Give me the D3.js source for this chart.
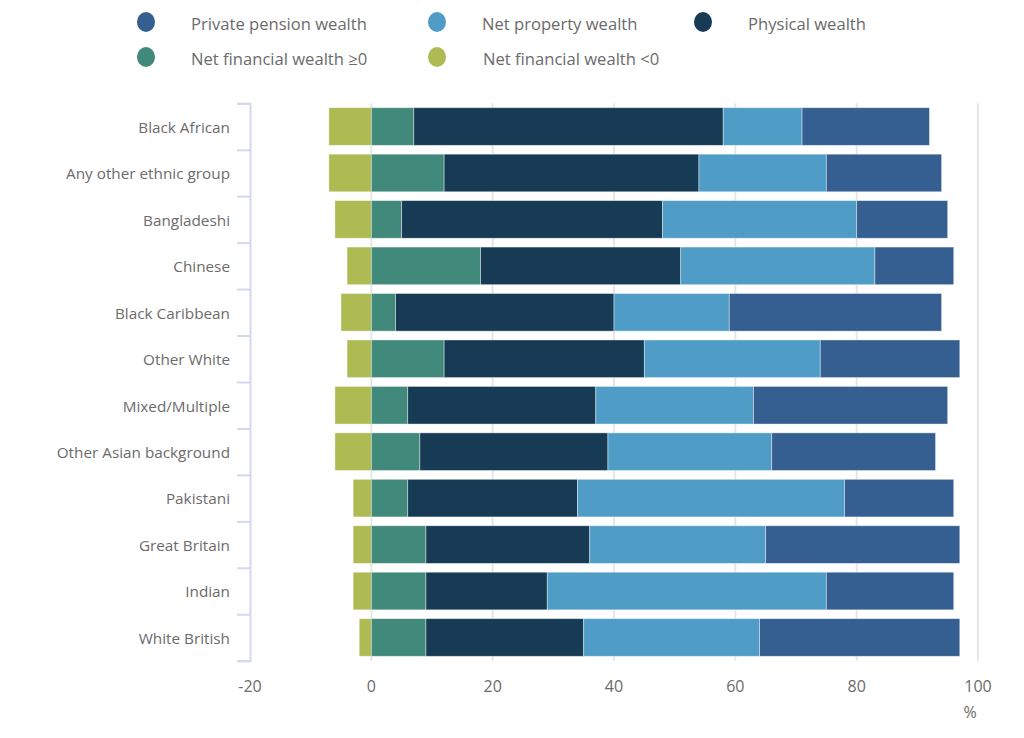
<!DOCTYPE html>
<meta charset="utf-8" />
<script src="https://d3js.org/d3.v7.min.js"></script>
<style>
  body { margin: 0; background: #fff; }
  text { font-family: "Open Sans", sans-serif; fill: #6b6b6b; }
  .grid line { stroke: #e6e6e6; stroke-width: 2; }
  .yaxis path, .yaxis line { stroke: #d3d9ee; stroke-width: 2; }
</style>
<div id="chart"></div>
<script>
  // groups, top to bottom
  const groups = [
    "Black African", "Any other ethnic group", "Bangladeshi", "Chinese",
    "Black Caribbean", "Other White", "Mixed/Multiple", "Other Asian background",
    "Pakistani", "Great Britain", "Indian", "White British"
  ];

  // shares of total wealth, %
  const finNeg   = [-7, -7, -6, -4, -5, -4, -6, -6, -3, -3, -3, -2];
  const finPos   = [7, 12, 5, 18, 4, 12, 6, 8, 6, 9, 9, 9];
  const physical = [51, 42, 43, 33, 36, 33, 31, 31, 28, 27, 20, 26];
  const property = [13, 21, 32, 32, 19, 29, 26, 27, 44, 29, 46, 29];
  const pension  = [21, 19, 15, 13, 35, 23, 32, 27, 18, 32, 21, 33];

  const xTicks = [-20, 0, 20, 40, 60, 80, 100];

  const keys = ["finNeg", "finPos", "physical", "property", "pension"];
  const colors = {
    pension: "#345f90",
    property: "#4f9dc7",
    physical: "#173a55",
    finPos: "#41897a",
    finNeg: "#adbb52"
  };
  const legendItems = [
    { key: "pension", label: "Private pension wealth", x: 146, y: 22 },
    { key: "property", label: "Net property wealth", x: 437, y: 22 },
    { key: "physical", label: "Physical wealth", x: 703, y: 22 },
    { key: "finPos", label: "Net financial wealth \u22650", x: 146, y: 57 },
    { key: "finNeg", label: "Net financial wealth <0", x: 437, y: 57 }
  ];

  const rows = groups.map((g, i) => ({
    group: g,
    finNeg: finNeg[i],
    finPos: finPos[i],
    physical: physical[i],
    property: property[i],
    pension: pension[i]
  }));

  const width = 1024, height = 738;
  const plotTop = 103.3, plotBottom = 660.7, plotLeft = 250, plotRight = 978;

  const svg = d3.select("#chart").append("svg")
    .attr("width", width)
    .attr("height", height);

  const x = d3.scaleLinear().domain([-20, 100]).range([plotLeft, plotRight]);
  const y = d3.scaleBand().domain(groups).range([plotTop, plotBottom])
    .paddingInner(0.19).paddingOuter(0.095);

  // vertical gridlines
  svg.append("g").attr("class", "grid")
    .selectAll("line")
    .data(xTicks.filter(d => d !== -20))
    .join("line")
    .attr("x1", d => x(d)).attr("x2", d => x(d))
    .attr("y1", plotTop).attr("y2", plotBottom);

  // stacked bars
  const series = d3.stack().keys(keys).offset(d3.stackOffsetDiverging)(rows);

  svg.append("g")
    .selectAll("g")
    .data(series)
    .join("g")
    .attr("fill", d => colors[d.key])
    .selectAll("rect")
    .data(d => d)
    .join("rect")
    .attr("x", d => x(Math.min(d[0], d[1])))
    .attr("width", d => Math.abs(x(d[1]) - x(d[0])))
    .attr("y", d => y(d.data.group))
    .attr("height", y.bandwidth())
    .attr("stroke", "#fff")
    .attr("stroke-opacity", 0.5)
    .attr("stroke-width", 0.8);

  // y axis: line with ticks on band boundaries
  const edges = d3.scaleLinear().domain([0, groups.length]).range([plotTop, plotBottom]);
  svg.append("g").attr("class", "yaxis")
    .attr("transform", "translate(" + plotLeft + ",0)")
    .call(d3.axisLeft(edges).tickValues(d3.range(groups.length + 1))
      .tickSize(13).tickSizeOuter(13).tickFormat(""));

  svg.append("g")
    .selectAll("text")
    .data(groups)
    .join("text")
    .attr("x", 230)
    .attr("y", d => y(d) + y.bandwidth() / 2 + 1)
    .attr("dy", "0.35em")
    .attr("text-anchor", "end")
    .attr("font-size", 15.3)
    .text(d => d);

  // x tick labels
  svg.append("g")
    .selectAll("text")
    .data(xTicks)
    .join("text")
    .attr("x", d => x(d))
    .attr("y", 686)
    .attr("dy", "0.35em")
    .attr("text-anchor", "middle")
    .attr("font-size", 16)
    .text(d => d);

  svg.append("text")
    .attr("x", 970).attr("y", 712).attr("dy", "0.35em")
    .attr("text-anchor", "middle")
    .attr("font-size", 16)
    .text("%");

  // legend
  const lg = svg.append("g")
    .selectAll("g")
    .data(legendItems)
    .join("g")
    .attr("transform", d => "translate(" + d.x + "," + d.y + ")");

  lg.append("ellipse")
    .attr("rx", 9).attr("ry", 10)
    .attr("fill", d => colors[d.key]);

  lg.append("text")
    .attr("x", d => d.key === "finNeg" ? 46 : 45)
    .attr("y", 2)
    .attr("dy", "0.35em")
    .attr("font-size", 16.6)
    .text(d => d.label);
</script>
